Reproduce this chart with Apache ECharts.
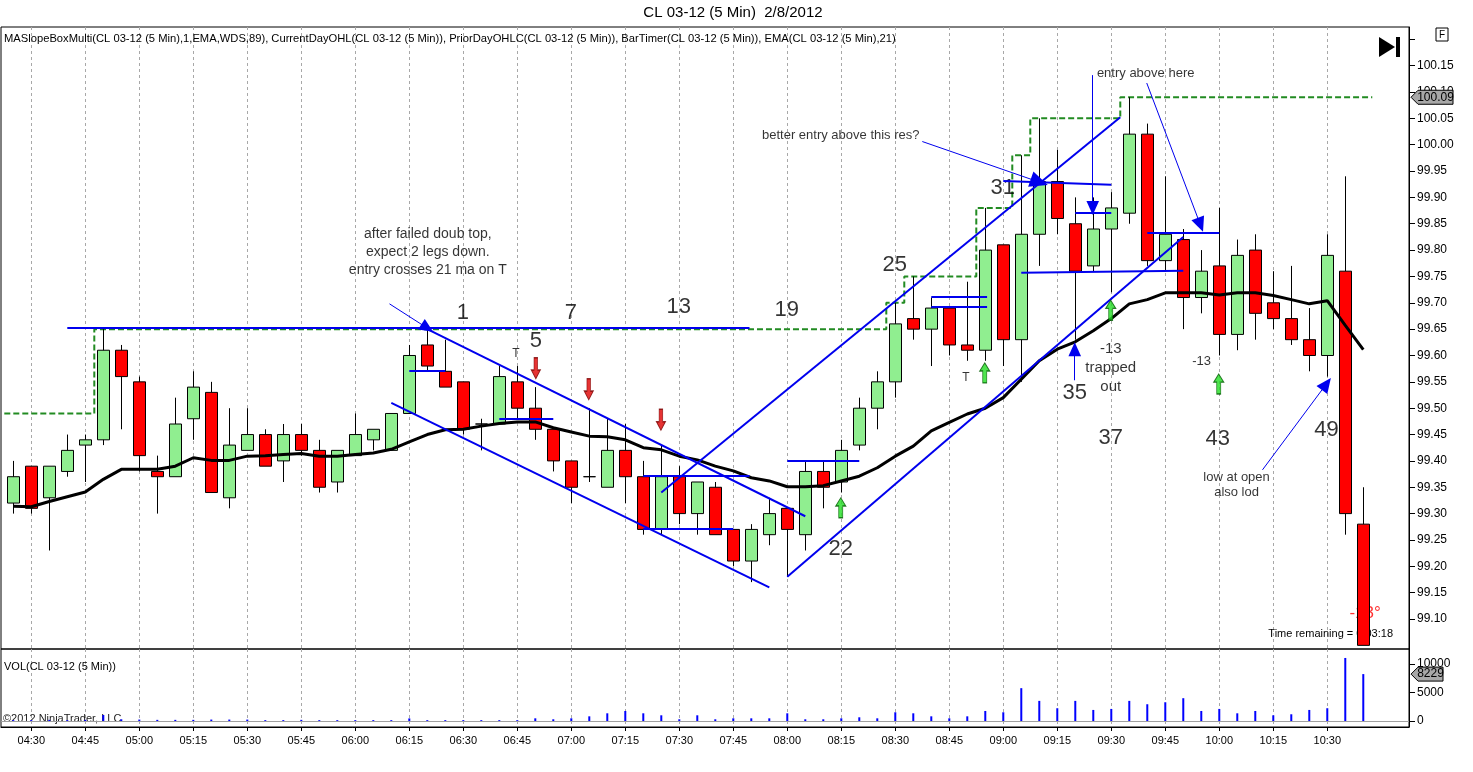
<!DOCTYPE html>
<html><head><meta charset="utf-8">
<script src="https://cdn.jsdelivr.net/npm/echarts@6/dist/echarts.min.js"></script>
<style>html,body{margin:0;padding:0;background:#fff;}#c{width:1473px;height:772px;}</style>
</head><body><div id="c"></div>
<script>
// ---------- data ----------
const times = ['04:25','04:30','04:35','04:40','04:45','04:50','04:55','05:00','05:05','05:10','05:15','05:20','05:25','05:30','05:35','05:40','05:45','05:50','05:55','06:00','06:05','06:10','06:15','06:20','06:25','06:30','06:35','06:40','06:45','06:50','06:55','07:00','07:05','07:10','07:15','07:20','07:25','07:30','07:35','07:40','07:45','07:50','07:55','08:00','08:05','08:10','08:15','08:20','08:25','08:30','08:35','08:40','08:45','08:50','08:55','09:00','09:05','09:10','09:15','09:20','09:25','09:30','09:35','09:40','09:45','09:50','09:55','10:00','10:05','10:10','10:15','10:20','10:25','10:30','10:35','10:40'];
const open  = [99.32,99.39,99.33,99.38,99.43,99.44,99.61,99.55,99.38,99.37,99.48,99.53,99.33,99.42,99.45,99.40,99.45,99.42,99.36,99.41,99.44,99.42,99.49,99.62,99.57,99.55,99.47,99.47,99.55,99.50,99.46,99.40,99.37,99.35,99.42,99.37,99.27,99.37,99.30,99.35,99.27,99.21,99.26,99.31,99.26,99.38,99.36,99.43,99.50,99.55,99.67,99.65,99.69,99.62,99.61,99.81,99.63,99.83,99.93,99.85,99.77,99.84,99.87,100.02,99.78,99.82,99.71,99.77,99.64,99.80,99.70,99.67,99.63,99.60,99.76,99.28];
const high  = [99.40,99.39,99.39,99.45,99.45,99.65,99.62,99.56,99.41,99.52,99.57,99.55,99.50,99.50,99.46,99.47,99.47,99.44,99.42,99.49,99.46,99.49,99.62,99.65,99.63,99.55,99.48,99.58,99.58,99.54,99.46,99.40,99.50,99.48,99.47,99.40,99.43,99.39,99.36,99.36,99.27,99.28,99.33,99.31,99.40,99.40,99.44,99.52,99.57,99.70,99.75,99.71,99.69,99.74,99.88,99.81,99.98,100.05,99.99,99.90,99.90,99.91,100.09,100.04,99.94,99.84,99.80,99.88,99.82,99.83,99.76,99.77,99.69,99.83,99.94,99.35];
const low   = [99.30,99.30,99.23,99.37,99.36,99.43,99.46,99.38,99.30,99.37,99.44,99.34,99.31,99.42,99.39,99.36,99.41,99.34,99.34,99.41,99.42,99.42,99.49,99.57,99.54,99.45,99.42,99.47,99.48,99.44,99.38,99.32,99.36,99.35,99.32,99.26,99.26,99.28,99.26,99.26,99.20,99.17,99.24,99.18,99.23,99.31,99.34,99.42,99.46,99.52,99.63,99.58,99.60,99.59,99.59,99.58,99.55,99.77,99.83,99.63,99.76,99.72,99.85,99.77,99.76,99.65,99.68,99.60,99.61,99.63,99.65,99.62,99.57,99.56,99.26,99.05];
const close = [99.37,99.31,99.39,99.42,99.44,99.61,99.56,99.41,99.37,99.47,99.54,99.34,99.43,99.45,99.39,99.45,99.42,99.35,99.42,99.45,99.46,99.49,99.60,99.58,99.54,99.46,99.47,99.56,99.50,99.46,99.40,99.35,99.37,99.42,99.37,99.27,99.37,99.30,99.36,99.26,99.21,99.27,99.30,99.27,99.38,99.35,99.42,99.50,99.55,99.66,99.65,99.69,99.62,99.61,99.80,99.63,99.83,99.93,99.86,99.76,99.84,99.88,100.02,99.78,99.83,99.71,99.76,99.64,99.79,99.68,99.67,99.63,99.60,99.79,99.30,99.05];
const volume = [150,150,200,150,200,1050,300,250,200,200,200,250,250,250,150,150,200,150,150,150,150,150,450,150,150,150,150,150,150,470,300,470,820,1350,1760,1350,1000,300,1000,300,470,470,470,1350,300,300,470,650,470,1530,1350,820,470,820,1760,1530,5760,3530,2240,3530,1940,2120,3530,2940,3290,4000,1760,2120,1350,1760,1000,1180,1940,2240,11060,8229];
const ema21 = [99.314,99.313,99.323,99.332,99.341,99.365,99.384,99.384,99.384,99.390,99.406,99.401,99.401,99.409,99.410,99.412,99.414,99.409,99.409,99.412,99.415,99.422,99.436,99.450,99.459,99.460,99.466,99.471,99.474,99.474,99.463,99.455,99.447,99.446,99.440,99.425,99.421,99.409,99.402,99.390,99.381,99.368,99.362,99.351,99.351,99.353,99.362,99.371,99.387,99.409,99.428,99.457,99.473,99.489,99.500,99.520,99.555,99.590,99.612,99.626,99.647,99.670,99.698,99.706,99.719,99.719,99.719,99.715,99.719,99.719,99.714,99.706,99.698,99.704,99.657,99.611];
const dayHigh = [99.49,99.49,99.49,99.49,99.49,
  99.65,99.65,99.65,99.65,99.65,99.65,99.65,99.65,99.65,99.65,99.65,99.65,99.65,99.65,99.65,99.65,99.65,99.65,99.65,99.65,99.65,99.65,99.65,99.65,99.65,99.65,99.65,99.65,99.65,99.65,99.65,99.65,99.65,99.65,99.65,99.65,99.65,99.65,99.65,99.65,99.65,99.65,99.65,99.65,
  99.70,99.75,99.75,99.75,99.75,99.88,99.88,99.98,100.05,100.05,100.05,100.05,100.05,
  100.09,100.09,100.09,100.09,100.09,100.09,100.09,100.09,100.09,100.09,100.09,100.09,100.09,100.09];
const timeTicks = ['04:30','04:45','05:00','05:15','05:30','05:45','06:00','06:15','06:30','06:45','07:00','07:15','07:30','07:45','08:00','08:15','08:30','08:45','09:00','09:15','09:30','09:45','10:00','10:15','10:30'];
const priceTicks = [99.10,99.15,99.20,99.25,99.30,99.35,99.40,99.45,99.50,99.55,99.60,99.65,99.70,99.75,99.80,99.85,99.90,99.95,100.00,100.05,100.10,100.15];
const volTicks = [0,5000,10000];

// user drawn objects anchored at [bar index, price]
const trendLines = [
  [[3,99.652],[40.9,99.652]],
  [[23,99.65],[44,99.295]],
  [[21,99.51],[42,99.16]],
  [[22,99.571],[24,99.571]],
  [[27,99.48],[30,99.48]],
  [[35,99.371],[40.9,99.371]],
  [[35,99.271],[40,99.271]],
  [[36,99.34],[61.5,100.052]],
  [[43,99.18],[65,99.825]],
  [[54,99.555],[77.6,99.555]],
  [[51,99.711],[54.1,99.711]],
  [[51,99.692],[54.1,99.692]],
  [[55,99.931],[61,99.924]],
  [[56,99.757],[65,99.761]],
  [[59,99.870],[61,99.870]],
  [[63,99.832],[67,99.832]],
  [[43,99.400],[47,99.400]]
];
const arrows = [
  [[20.9,99.698],[23.0,99.652],14],
  [[50.5,100.006],[57.0,99.929],18],
  [[59.97,100.132],[59.97,99.880],14],
  [[58.97,99.553],[58.97,99.612],14],
  [[62.97,100.117],[65.95,99.848],15],
  [[69.4,99.383],[72.95,99.546],15]
];
const notes = [
  [24.98,99.681,'1',22],[30.98,99.681,'7',22],[36.97,99.692,'13',22],[42.97,99.686,'19',22],
  [29.03,99.628,'5',22],[48.97,99.772,'25',22],[45.97,99.233,'22',22],[54.97,99.918,'31',22],
  [58.97,99.529,'35',22],[60.97,99.443,'37',22],[66.91,99.442,'43',22],[72.96,99.459,'49',22],
  [23.03,99.831,'after failed doub top,',14],[23.03,99.796,'expect 2 legs down.',14],[23.03,99.762,'entry crosses 21 ma on T',14],
  [45.97,100.017,'better entry above this res?',13],[62.91,100.136,'entry above here',13],
  [60.97,99.612,'-13',15],[60.97,99.576,'trapped',15],[60.97,99.540,'out',15],
  [66.02,99.588,'-13',13],[67.96,99.369,'low at open',13],[67.96,99.341,'also lod',13],
  [27.92,99.603,'T',12],[52.92,99.557,'T',12]
];
const downSignals = [[29.03,99.576],[31.97,99.536],[35.98,99.478]];
const upSignals = [[45.97,99.311],[53.97,99.567],[60.97,99.686],[66.97,99.546]];
const slopeText = [[75.1,99.111,'-13°']];

// ---------- chart ----------
const FONT = '"Liberation Sans", Arial, sans-serif';
const XMIN = -0.683, XMAX = 77.54;
const YMIN = 99.0431, YMAX = 100.2233;
const tickIdx = timeTicks.map(t => times.indexOf(t));
const gridLine = {show:true, lineStyle:{color:'#a8a8a8', type:[3,3], width:1}};
const chart = echarts.init(document.getElementById('c'));

const option = {
  animation:false,
  backgroundColor:'#fff',
  grid:[
    {left:1, top:27, right:64, height:622, show:true, borderColor:'#000', borderWidth:1},
    {left:1, top:649, right:64, height:78, show:true, borderColor:'#000', borderWidth:1}
  ],
  xAxis:[
    {type:'value', gridIndex:0, min:XMIN, max:XMAX, axisLine:{show:false, onZero:false},
     axisTick:{show:false, customValues:tickIdx}, axisLabel:{show:false, customValues:tickIdx}, splitLine:gridLine},
    {type:'value', gridIndex:1, min:XMIN, max:XMAX, axisLine:{show:true, onZero:false, lineStyle:{color:'#000'}},
     axisTick:{show:true, length:4, customValues:tickIdx, lineStyle:{color:'#000'}},
     axisLabel:{customValues:tickIdx, formatter:v => times[Math.round(v)], fontSize:11, color:'#000', fontFamily:FONT, margin:8},
     splitLine:gridLine}
  ],
  yAxis:[
    {type:'value', gridIndex:0, position:'right', min:YMIN, max:YMAX, scale:true,
     axisLine:{show:true, onZero:false, lineStyle:{color:'#000'}},
     axisTick:{show:true, length:6, customValues:priceTicks.concat([100.20]), lineStyle:{color:'#000'}},
     axisLabel:{customValues:priceTicks, formatter:v => v.toFixed(2), fontSize:12, color:'#000', fontFamily:FONT, margin:8},
     splitLine:{show:false}},
    {type:'value', gridIndex:1, position:'right', min:-1053, max:12632,
     axisLine:{show:true, onZero:false, lineStyle:{color:'#000'}},
     axisTick:{show:true, length:6, customValues:volTicks, lineStyle:{color:'#000'}},
     axisLabel:{customValues:volTicks, formatter:v => String(v), fontSize:12, color:'#000', fontFamily:FONT, margin:8},
     splitLine:{show:false}}
  ],
  series:[
    {name:'dayHigh', type:'line', xAxisIndex:0, yAxisIndex:0, z:1, step:'middle', symbol:'none',
     lineStyle:{color:'#228b22', width:2, type:[6,3]},
     data:[[-0.5, dayHigh[0]]].concat(dayHigh.map((v,i)=>[i,v])).concat([[75.5, dayHigh[dayHigh.length-1]]])},
    {name:'slope', type:'scatter', xAxisIndex:0, yAxisIndex:0, z:1, symbolSize:0,
     label:{show:true, position:'inside', color:'#ff0000', fontSize:17, fontFamily:FONT, formatter:p=>p.data.t},
     data:slopeText.map(s=>({value:[s[0],s[1]], t:s[2]}))},
    {name:'CL', type:'candlestick', xAxisIndex:0, yAxisIndex:0, z:2, barWidth:12,
     itemStyle:{color:'#90ee90', color0:'#ff0000', borderColor:'#000', borderColor0:'#000', borderWidth:1},
     data:times.map((t,i)=>[i, open[i], close[i], low[i], high[i]])},
    {name:'EMA21', type:'line', xAxisIndex:0, yAxisIndex:0, z:3, symbol:'none',
     lineStyle:{color:'#000', width:3}, data:ema21.map((v,i)=>[i,v])},
    {name:'notes', type:'scatter', xAxisIndex:0, yAxisIndex:0, z:4, symbolSize:0,
     label:{show:true, position:'inside', color:'#000', fontFamily:FONT, formatter:p=>p.data.t},
     data:notes.map(n=>({value:[n[0],n[1]], t:n[2], label:{fontSize:n[3]}})),
     markLine:{silent:true, animation:false, symbol:['none','none'], label:{show:false},
       lineStyle:{color:'#0000ee', width:2, type:'solid'},
       data:trendLines.map(l=>[{coord:l[0]},{coord:l[1]}]).concat(
         arrows.map(a=>[{coord:a[0], lineStyle:{width:1, color:'#0000ee', type:'solid'}},{coord:a[1], symbol:'triangle', symbolSize:[a[2]*0.9,a[2]]}]))}},
    {name:'down', type:'scatter', xAxisIndex:0, yAxisIndex:0, z:5,
     symbol:'path://M3,0L7,0L7,13L10,13L5,22L0,13L3,13Z', symbolSize:[9,21],
     itemStyle:{color:'#e00000', borderColor:'#7a0000', borderWidth:1}, data:downSignals},
    {name:'up', type:'scatter', xAxisIndex:0, yAxisIndex:0, z:5,
     symbol:'path://M5,0L10,9L7,9L7,22L3,22L3,9L0,9Z', symbolSize:[10,20],
     itemStyle:{color:'#22dd22', borderColor:'#005a00', borderWidth:1}, data:upSignals},
    {name:'VOL', type:'bar', xAxisIndex:1, yAxisIndex:1, barWidth:2,
     itemStyle:{color:'#0000ff'}, data:volume.map((v,i)=>[i,v]),
     markLine:{silent:true, symbol:['none','none'], label:{show:false}, animation:false,
       lineStyle:{color:'#a0a0a0', width:1, type:'solid'}, data:[{yAxis:0}]}}
  ]
};
chart.setOption(option);

// price tags located through the library's scales
const yHigh = chart.convertToPixel({yAxisIndex:0}, dayHigh[dayHigh.length-1]);
const yVol = chart.convertToPixel({yAxisIndex:1}, volume[volume.length-1]);
function tag(y, x1, x2, txt){
  return [
    {type:'polygon', z:100, shape:{points:[[x1,y],[x1+7,y-7],[x2,y-7],[x2,y+7],[x1+7,y+7]]},
     style:{fill:'#a8a8a8', stroke:'#000', lineWidth:1}},
    {type:'text', z:101, x:(x1+7+x2)/2, y:y, style:{text:txt, fill:'#000', font:'12px '+FONT, align:'center', verticalAlign:'middle'}}
  ];
}
chart.setOption({graphic:{elements:[
  {type:'text', x:733, y:13, style:{text:'CL 03-12 (5 Min)  2/8/2012', fill:'#000', font:'15px '+FONT, align:'center', verticalAlign:'middle'}},
  {type:'text', x:4, y:39, style:{text:'MASlopeBoxMulti(CL 03-12 (5 Min),1,EMA,WDS,89), CurrentDayOHL(CL 03-12 (5 Min)), PriorDayOHLC(CL 03-12 (5 Min)), BarTimer(CL 03-12 (5 Min)), EMA(CL 03-12 (5 Min),21)', fill:'#000', font:'11.2px '+FONT, verticalAlign:'middle'}},
  {type:'text', x:4, y:667, style:{text:'VOL(CL 03-12 (5 Min))', fill:'#000', font:'11px '+FONT, verticalAlign:'middle'}},
  {type:'text', x:3, y:719, style:{text:'©2012 NinjaTrader, LLC', fill:'#222', font:'11px '+FONT, verticalAlign:'middle'}},
  {type:'text', x:1393, y:634, style:{text:'Time remaining = 0:03:18', fill:'#000', font:'11px '+FONT, align:'right', verticalAlign:'middle'}},
  {type:'polygon', shape:{points:[[1379,37],[1395,47],[1379,57]]}, style:{fill:'#000'}},
  {type:'rect', shape:{x:1396, y:37, width:4, height:20}, style:{fill:'#000'}},
  {type:'rect', shape:{x:1436, y:28, width:12, height:13}, style:{fill:'#fff', stroke:'#000', lineWidth:1}},
  {type:'text', x:1442, y:35, style:{text:'F', fill:'#000', font:'10px '+FONT, align:'center', verticalAlign:'middle'}}
].concat(tag(yHigh,1411,1453,'100.09')).concat(tag(yVol,1411,1443,'8229'))}});
</script></body></html>
